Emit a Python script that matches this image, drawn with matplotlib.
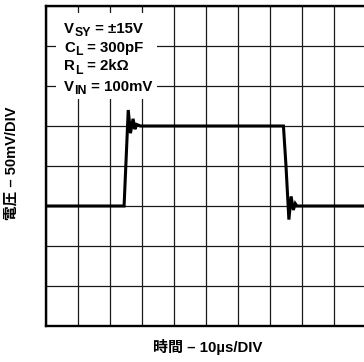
import matplotlib
matplotlib.use("Agg")
import matplotlib.pyplot as plt
from matplotlib.patches import Rectangle
from matplotlib.transforms import offset_copy

plt.rcParams['font.family'] = ['Liberation Sans', 'Noto Sans CJK JP', 'DejaVu Sans']

# Scope trace: time in microseconds, voltage in millivolts
time_us = [0, 24.4, 25.7, 26.4, 27.2, 27.8, 28.3, 29.5,
           74.2, 75.0, 75.9, 76.6, 77.3, 77.9, 78.4, 100]
volt_mv = [150, 150, 270, 241, 259, 246, 252, 250,
           250, 200, 133, 162, 145, 153, 150, 150]

# Oscilloscope graticule: 10 horizontal and 8 vertical divisions
time_div_us = 10
volt_div_mv = 50
n_time_div = 10
n_volt_div = 8

# Test conditions as (symbol, subscript, value) triples
conditions = [('V', 'SY', ' = ±15V'),
              ('C', 'L', ' = 300pF'),
              ('R', 'L', ' = 2kΩ'),
              ('V', 'IN', ' = 100mV')]

x_label = '時間 – 10µs/DIV'
y_label = '電圧 – 50mV/DIV'

W, H = 364, 362
fig = plt.figure(figsize=(W / 100, H / 100), dpi=100)
ax = fig.add_axes([46 / W, 1 - 326 / H, 320 / W, 320 / H])

ax.set_xlim(0, n_time_div * time_div_us)
ax.set_ylim(0, n_volt_div * volt_div_mv)
ax.set_xticks([i * time_div_us for i in range(n_time_div + 1)])
ax.set_yticks([i * volt_div_mv for i in range(n_volt_div + 1)])
ax.tick_params(length=0, labelbottom=False, labelleft=False)
ax.set_axisbelow(True)
ax.grid(True, color='#1a1a1a', lw=0.9)
for side in ('left', 'top', 'bottom'):
    ax.spines[side].set_linewidth(1.7)
ax.spines['right'].set_visible(False)

ax.plot(time_us, volt_mv, color='black', lw=2.2, solid_joinstyle='miter', zorder=3)

# White panel behind the test conditions
ax.add_patch(Rectangle((0.031, 0.709), 0.316, 0.269, transform=ax.transAxes,
                       facecolor='white', edgecolor='none', zorder=1.5))

renderer = fig.canvas.get_renderer()
main_size = 10.8
sub_size = 8.8
baselines = [33.3, 51.7, 70.5, 91.0]
for (sym, sub, val), b in zip(conditions, baselines):
    y = (326 - b) / 320
    x_px = 0.0
    for part, size, dy in ((sym, main_size, 0), (sub, sub_size, -3.2), (val, main_size, 0)):
        trans = offset_copy(ax.transAxes, fig=fig, x=x_px, y=dy, units='dots')
        t = ax.text(0.057, y, part, transform=trans, fontsize=size,
                    fontweight='bold', va='baseline', ha='left', zorder=4)
        x_px += t.get_window_extent(renderer).width

fig.text(208 / W, 1 - 347 / H, x_label, fontsize=10.8, fontweight='bold',
         ha='center', va='center')
fig.text(12 / W, 1 - 163 / H, y_label, fontsize=10.5, fontweight='bold',
         ha='center', va='center', rotation=90)

fig.savefig('out.png', dpi=100)
